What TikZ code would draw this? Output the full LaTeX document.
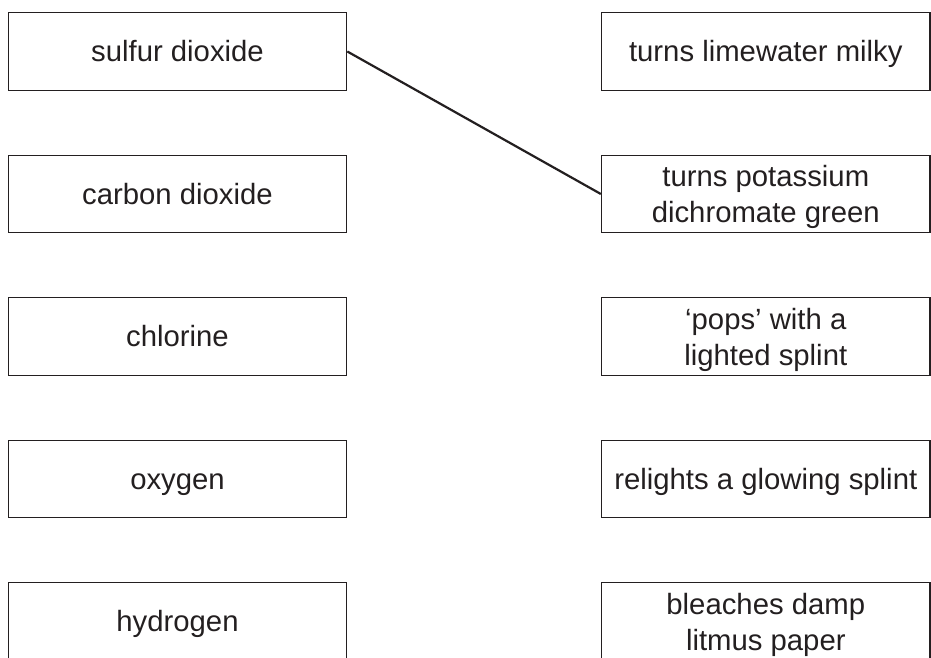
\documentclass[tikz,border=0pt]{standalone}
\usepackage{fontspec}
\setmainfont{Liberation Sans}
\definecolor{ink}{HTML}{231F20}
\begin{document}
\begin{tikzpicture}[x=1pt,y=-1pt,
  box/.style={draw=ink,line width=1.3pt,minimum width=338.4pt,minimum height=77.6pt,inner sep=0pt},
  one/.style={anchor=base,yshift=-10.2pt,inner sep=0pt,text=ink,font=\fontsize{29.3}{36}\selectfont},
  two/.style={anchor=base,yshift=-28.6pt,inner sep=0pt,align=center,text=ink,font=\fontsize{29.3}{36}\selectfont},
  conn/.style={draw=ink,line width=2.2pt}]
\useasboundingbox (0,0) rectangle (931,657);
\clip (0,0) rectangle (931,657);
% left boxes
\node[box] (L1) at (177.5,51.5) {};
\node[box] (L2) at (177.5,194) {};
\node[box] (L3) at (177.5,336.5) {};
\node[box] (L4) at (177.5,479) {};
\node[box] (L5) at (177.5,621.5) {};
% right boxes
\node[box,minimum width=328.6pt] (R1) at (765.8,51.5) {};
\node[box,minimum width=328.6pt] (R2) at (765.8,194) {};
\node[box,minimum width=328.6pt] (R3) at (765.8,336.5) {};
\node[box,minimum width=328.6pt] (R4) at (765.8,479) {};
\node[box,minimum width=328.6pt] (R5) at (765.8,621.5) {};
% texts
\node[one] (tL1) at (L1.center) {sulfur dioxide};
\node[one] (tL2) at (L2.center) {carbon dioxide};
\node[one] (tL3) at (L3.center) {chlorine};
\node[one] (tL4) at (L4.center) {oxygen};
\node[one] (tL5) at (L5.center) {hydrogen};
\node[one] (tR1) at (R1.center) {turns limewater milky};
\node[two] (tR2) at (R2.center) {turns potassium\\dichromate green};
\node[two] (tR3) at (R3.center) {‘pops’ with a\\lighted splint};
\node[one] (tR4) at (R4.center) {relights a glowing splint};
\node[two] (tR5) at (R5.center) {bleaches damp\\litmus paper};
% connector
\draw[conn] (L1.east) -- (R2.west);
\end{tikzpicture}
\end{document}
